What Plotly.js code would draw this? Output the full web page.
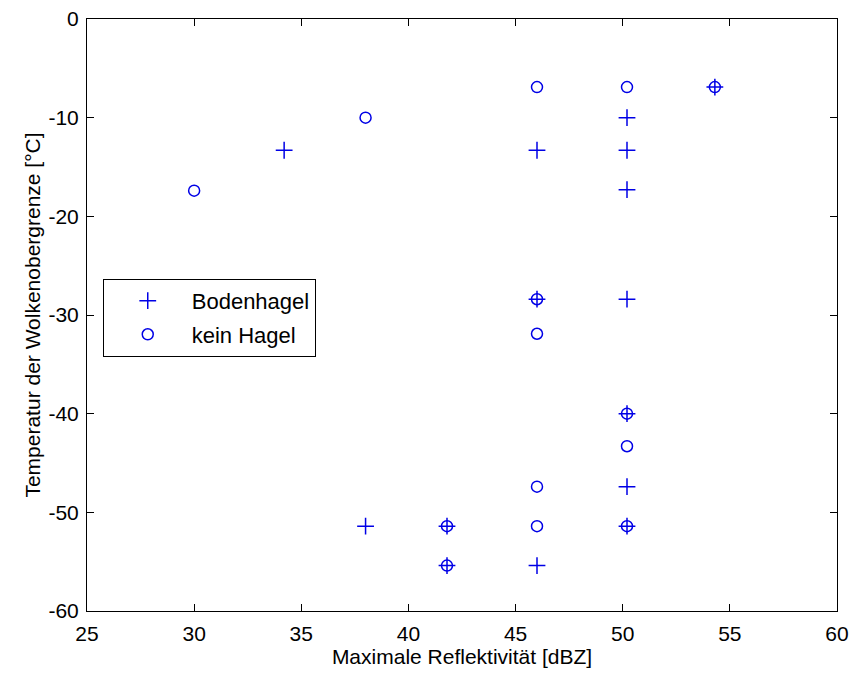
<!DOCTYPE html>
<html>
<head>
<meta charset="utf-8">
<script src="https://cdn.plot.ly/plotly-3.0.1.min.js"></script>
<style>html,body{margin:0;padding:0;background:#fff;}#chart{width:853px;height:677px;}</style>
</head>
<body>
<div id="chart"></div>
<script>
// Bodenhagel (ground hail) observations
const hailX = [34.2, 46.0, 50.2, 50.2, 50.2, 54.3, 46.0, 50.2, 50.2, 50.2, 50.2, 38.0, 41.8, 41.8, 46.0];
const hailY = [-13.3, -13.3, -10.0, -13.3, -17.3, -6.9, -28.4, -28.4, -40.0, -47.4, -51.4, -51.4, -51.4, -55.4, -55.4];
// kein Hagel (no hail) observations
const noHailX = [30.0, 38.0, 46.0, 50.2, 54.3, 46.0, 46.0, 50.2, 50.2, 46.0, 46.0, 50.2, 41.8, 41.8];
const noHailY = [-17.4, -10.0, -6.9, -6.9, -6.9, -28.4, -31.9, -40.0, -43.3, -47.4, -51.4, -51.4, -51.4, -55.4];

const xTicks = [25, 30, 35, 40, 45, 50, 55, 60];
const yTicks = [0, -10, -20, -30, -40, -50, -60];
const seriesNames = ['Bodenhagel', 'kein Hagel'];

const blue = '#0000e6';
const font = 'Liberation Sans, Arial, sans-serif';

const traces = [
  {
    x: hailX, y: hailY, type: 'scatter', mode: 'markers', name: seriesNames[0], legendgroup: 'a',
    marker: {symbol: 'cross-thin-open', size: 12, color: blue, line: {color: blue, width: 1.5}}
  },
  {
    x: noHailX, y: noHailY, type: 'scatter', mode: 'markers', name: seriesNames[1], legendgroup: 'b',
    marker: {symbol: 'circle-open', size: 11, color: blue, line: {color: blue, width: 1.5}}
  }
];

const axisCommon = {
  showline: true, linecolor: '#000', linewidth: 1, mirror: 'ticks',
  ticks: 'inside', ticklen: 7, tickcolor: '#000', tickwidth: 1,
  showgrid: false, zeroline: false,
  tickfont: {family: font, size: 21, color: '#000'}
};

const layout = {
  width: 853, height: 677,
  margin: {l: 87, r: 16, t: 19, b: 66},
  paper_bgcolor: '#fff', plot_bgcolor: '#fff',
  showlegend: true,
  xaxis: Object.assign({}, axisCommon, {
    range: [25, 60], tickmode: 'array', tickvals: xTicks, ticktext: xTicks.map(String),
    ticklabelstandoff: 4,
    title: {text: 'Maximale Reflektivität [dBZ]', font: {family: font, size: 21, color: '#000'}, standoff: 5}
  }),
  yaxis: Object.assign({}, axisCommon, {
    range: [-60, 0], tickmode: 'array', tickvals: yTicks, ticktext: yTicks.map(String),
    ticklabelstandoff: 3,
    title: {text: 'Temperatur der Wolkenobergrenze [°C]', font: {family: font, size: 21, color: '#000'}, standoff: 2}
  }),
  legend: {
    x: 0.021, y: 0.561, xanchor: 'left', yanchor: 'top',
    bordercolor: '#000', borderwidth: 1, bgcolor: '#fff',
    font: {family: font, size: 22, color: '#000'},
    itemwidth: 78, tracegroupgap: 2, traceorder: 'grouped'
  }
};

Plotly.newPlot('chart', traces, layout, {displayModeBar: false, staticPlot: true});
</script>
</body>
</html>
